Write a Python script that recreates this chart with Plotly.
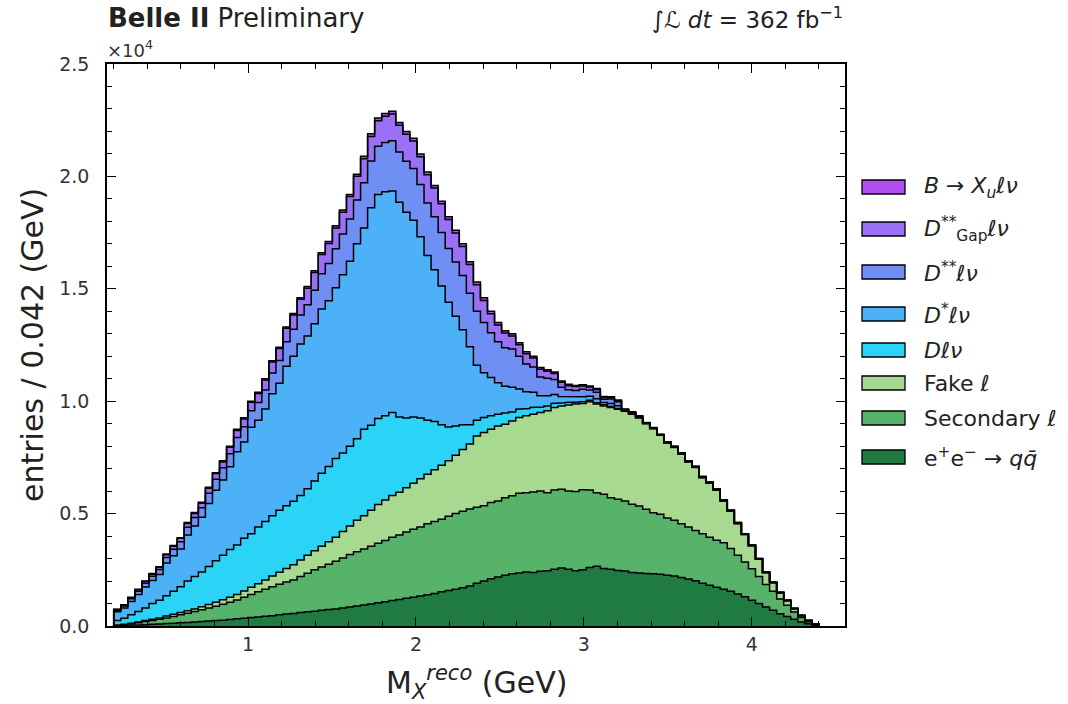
import numpy as np
import plotly.graph_objects as go

# Binning of the reconstructed hadronic mass (GeV)
BIN_LO, BIN_HI, N_BINS = 0.2, 4.4, 100

# Entries per bin for each process (stacked bottom -> top)
qq = [20, 30, 40, 50, 60, 80, 90, 110, 120, 140,
      160, 180, 200, 220, 240, 260, 290, 320, 350, 380,
      400, 430, 460, 500, 530, 560, 600, 630, 660, 700,
      730, 760, 800, 840, 890, 930, 980, 1030, 1080, 1130,
      1180, 1230, 1280, 1330, 1390, 1450, 1520, 1580, 1640, 1700,
      1780, 1900, 2000, 2100, 2180, 2260, 2320, 2360, 2400, 2380,
      2430, 2460, 2520, 2580, 2520, 2460, 2500, 2600, 2660, 2560,
      2520, 2470, 2450, 2380, 2360, 2340, 2320, 2300, 2260, 2220,
      2160, 2090, 2010, 1900, 1810, 1720, 1640, 1550, 1420, 1300,
      1150, 1000, 850, 700, 550, 420, 300, 180, 100, 30]

secondary = [20, 40, 60, 100, 140, 170, 210, 250, 300, 360,
             410, 460, 520, 580, 640, 710, 770, 840, 930, 1020,
             1120, 1210, 1290, 1360, 1430, 1490, 1600, 1720, 1840, 1920,
             2020, 2120, 2220, 2340, 2410, 2490, 2570, 2650, 2720, 2820,
             2870, 2950, 3020, 3070, 3160, 3200, 3230, 3300, 3360, 3400,
             3420, 3380, 3350, 3390, 3380, 3450, 3470, 3550, 3530, 3580,
             3580, 3470, 3530, 3500, 3490, 3520, 3560, 3450, 3270, 3300,
             3190, 3170, 3110, 3040, 2980, 2850, 2720, 2670, 2540, 2480,
             2390, 2310, 2240, 2200, 2140, 2100, 2060, 1900, 1730, 1550,
             1400, 1200, 1000, 850, 650, 500, 320, 200, 90, 30]

fake = [10, 10, 20, 30, 40, 50, 60, 80, 100, 100,
        110, 120, 140, 160, 180, 200, 220, 240, 280, 320,
        360, 410, 470, 530, 600, 670, 740, 800, 850, 930,
        1000, 1070, 1180, 1270, 1400, 1480, 1600, 1720, 1800, 1850,
        1900, 1970, 2050, 2150, 2200, 2300, 2400, 2470, 2600, 2750,
        2900, 3170, 3260, 3260, 3340, 3270, 3330, 3360, 3420, 3460,
        3490, 3640, 3670, 3710, 3820, 3890, 3840, 3920, 3940, 3930,
        4010, 4000, 3990, 4000, 3910, 3810, 3740, 3510, 3340, 3240,
        3100, 2900, 2800, 2500, 2400, 2220, 1850, 1650, 1400, 1220,
        1020, 770, 520, 370, 270, 200, 160, 90, 50, 20]

d_lnu = [200, 270, 380, 470, 560, 700, 790, 910, 1030, 1150,
         1320, 1440, 1540, 1690, 1840, 1980, 2120, 2200, 2340, 2380,
         2520, 2600, 2680, 2760, 2790, 2830, 2860, 2950, 3100, 3250,
         3350, 3500, 3500, 3550, 3630, 3850, 3780, 3830, 3750, 3700,
         3350, 3100, 2950, 2700, 2400, 2150, 1800, 1500, 1300, 1100,
         850, 700, 660, 600, 520, 490, 400, 370, 320, 300,
         240, 220, 180, 140, 110, 90, 80, 70, 60, 50,
         40, 40, 20, 20, 20, 10, 10, 10, 10, 10,
         10, 10, 10, 10, 10, 10, 10, 10, 10, 5,
         5, 5, 5, 5, 5, 5, 0, 0, 0, 0]

dstar_lnu = [380, 450, 590, 750, 930, 1020, 1140, 1450, 1580, 1680,
             2050, 2250, 2440, 2800, 3140, 3350, 3680, 4150, 4280, 4740,
             4750, 5000, 5430, 5650, 6200, 6450, 6750, 6800, 7000, 7300,
             7370, 7600, 7930, 8220, 8670, 8950, 9670, 9970, 9970, 9850,
             9550, 9150, 8750, 8070, 7330, 6750, 6170, 5550, 4880, 4230,
             3470, 2450, 2000, 1700, 1400, 1200, 1100, 900, 750, 680,
             500, 450, 400, 280, 240, 220, 220, 180, 180, 100,
             140, 120, 20, 20, 20, 10, 10, 10, 15, 15,
             15, 15, 15, 15, 15, 15, 15, 15, 15, 10,
             10, 10, 10, 10, 10, 10, 0, 0, 0, 0]

dss_lnu = [76, 94, 120, 145, 170, 195, 220, 252, 283, 315,
           346, 378, 416, 454, 491, 535, 580, 630, 680, 730,
           790, 850, 930, 1010, 1100, 1200, 1290, 1390, 1480, 1570,
           1660, 1730, 1810, 1880, 1950, 2020, 2080, 2140, 2190, 2240,
           2240, 2270, 2300, 2320, 2340, 2360, 2380, 2390, 2410, 2410,
           2380, 2400, 2230, 2000, 1830, 1710, 1700, 1460, 1240, 1120,
           840, 780, 660, 410, 330, 300, 330, 280, 290, 150,
           200, 170, 20, 30, 30, 10, 10, 10, 15, 15,
           15, 15, 15, 15, 15, 15, 15, 15, 15, 10,
           10, 10, 10, 10, 10, 10, 0, 0, 0, 0]

dss_gap = [24, 36, 50, 65, 80, 85, 100, 118, 137, 155,
           164, 182, 204, 226, 249, 265, 290, 320, 350, 380,
           400, 440, 480, 530, 590, 630, 690, 740, 800, 860,
           880, 930, 970, 1010, 1060, 1060, 1100, 1140, 1170, 1190,
           1180, 1200, 1220, 1230, 1250, 1270, 1280, 1290, 1290, 1290,
           1280, 1180, 980, 840, 740, 650, 580, 510, 450, 400,
           340, 310, 270, 220, 180, 170, 150, 130, 120, 80,
           70, 50, 20, 20, 20, 10, 10, 10, 10, 10,
           10, 10, 10, 10, 10, 10, 10, 10, 10, 5,
           5, 5, 5, 5, 5, 5, 0, 0, 0, 0]

xu_lnu = [20, 20, 20, 20, 20, 30, 30, 30, 30, 30,
          40, 40, 40, 40, 40, 50, 50, 50, 50, 50,
          60, 60, 60, 60, 60, 70, 70, 70, 70, 70,
          90, 90, 90, 90, 90, 120, 120, 120, 120, 120,
          130, 130, 130, 130, 130, 120, 120, 120, 120, 120,
          120, 120, 120, 110, 110, 100, 100, 90, 90, 80,
          80, 70, 70, 60, 60, 50, 50, 50, 40, 40,
          30, 30, 20, 20, 10, 10, 10, 10, 5, 5,
          5, 5, 5, 5, 5, 5, 5, 5, 5, 0,
          0, 0, 0, 0, 0, 0, 0, 0, 0, 0]

# Legend labels and fill colours, bottom of the stack first
labels = ["e<sup>+</sup>e<sup>\u2212</sup> \u2192 <i>q</i><i>q\u0304</i>",
          "Secondary <i>\u2113</i>",
          "Fake <i>\u2113</i>",
          "<i>D\u2113\u03bd</i>",
          "<i>D</i><sup>*</sup><i>\u2113\u03bd</i>",
          "<i>D</i><sup>**</sup><i>\u2113\u03bd</i>",
          "<i>D</i><sup>**</sup><sub>Gap</sub><i>\u2113\u03bd</i>",
          "<i>B</i> \u2192 <i>X<sub>u</sub>\u2113\u03bd</i>"]
colors = ["#1f7b41", "#57b36a", "#a7d990", "#2bd3f6",
          "#4db1f8", "#6f8ff5", "#9a70f7", "#b24df2"]
series = [qq, secondary, fake, d_lnu, dstar_lnu, dss_lnu, dss_gap, xu_lnu]

edges = np.linspace(BIN_LO, BIN_HI, N_BINS + 1)
# step outline: each bin contributes its left and right edge at the bin height
step_x = np.concatenate([[edges[0]], np.column_stack([edges[:-1], edges[1:]]).ravel(), [edges[-1]]])

fig = go.Figure()
running = np.zeros(N_BINS)
for k, (vals, col) in enumerate(zip(series, colors)):
    running = running + np.asarray(vals, dtype=float)
    step_y = np.concatenate([[0.0], np.repeat(running, 2), [0.0]])
    fig.add_trace(go.Scatter(
        x=step_x, y=step_y, mode="lines",
        line=dict(color="black", width=1.5),
        fill="tozeroy" if k == 0 else "tonexty",
        fillcolor=col, showlegend=False, hoverinfo="skip"))

# plot-area geometry in pixels
L, R, T, B = 107, 845, 64, 626
W, H = 1068, 704
pw, ph = R - L, B - T

def px(xp):
    return (xp - L) / pw

def py(yp):
    return (B - yp) / ph

axis_common = dict(
    showline=True, linecolor="black", linewidth=1.5, mirror="ticks",
    ticks="inside", ticklen=9, tickwidth=1.2, tickcolor="black",
    showgrid=False, zeroline=False,
    tickfont=dict(family="DejaVu Sans", size=19, color="#333333"),
)

fig.update_layout(
    width=W, height=H,
    margin=dict(l=L, r=W - R, t=T, b=H - B),
    paper_bgcolor="white", plot_bgcolor="white",
    font=dict(family="DejaVu Sans", color="#222222"),
    xaxis=dict(range=[0.16, 4.555], tickvals=[1, 2, 3, 4],
               minor=dict(ticks="inside", dtick=0.2, tick0=0, ticklen=5,
                          tickcolor="black", tickwidth=1),
               ticklabelstandoff=0, **axis_common),
    yaxis=dict(range=[0, 25000], tickvals=[0, 5000, 10000, 15000, 20000, 25000],
               ticktext=["0.0", "0.5", "1.0", "1.5", "2.0", "2.5"],
               minor=dict(ticks="inside", dtick=1000, tick0=0, ticklen=5,
                          tickcolor="black", tickwidth=1),
               ticklabelstandoff=12, **axis_common),
)

ann = []
ann.append(dict(x=px(106), y=py(18), xref="paper", yref="paper", xanchor="left", yanchor="middle",
                text="<b>Belle II</b> Preliminary", showarrow=False,
                font=dict(size=26, color="#222222")))
ann.append(dict(x=px(845), y=py(18), xref="paper", yref="paper", xanchor="right", yanchor="middle",
                text="\u222b<i>\u2112 dt</i> = 362 fb<sup>\u22121</sup>", showarrow=False,
                font=dict(size=23, color="#222222")))
ann.append(dict(x=px(105), y=py(49), xref="paper", yref="paper", xanchor="left", yanchor="middle",
                text="\u00d710<sup>4</sup>", showarrow=False,
                font=dict(size=18, color="#333333")))
ann.append(dict(x=px(32), y=py(345), xref="paper", yref="paper", xanchor="center", yanchor="middle",
                text="entries / 0.042 (GeV)", textangle=-90, showarrow=False,
                font=dict(size=30, color="#222222")))
ann.append(dict(x=px(476), y=py(682), xref="paper", yref="paper", xanchor="center", yanchor="middle",
                text="M<sub><i>X</i></sub><sup><i>reco</i></sup> (GeV)", showarrow=False,
                font=dict(size=30, color="#222222")))

# legend: coloured boxes with labels, top entry first
legend_y = [187, 229, 272, 314, 350, 383, 418, 457]
shapes = []
for yc, lab, col in zip(legend_y, labels[::-1], colors[::-1]):
    shapes.append(dict(type="rect", xref="paper", yref="paper",
                       x0=px(862), x1=px(905), y0=py(yc + 7), y1=py(yc - 7),
                       fillcolor=col, line=dict(color="black", width=1.3)))
    ann.append(dict(x=px(922), y=py(yc), xref="paper", yref="paper", xanchor="left", yanchor="middle",
                    text=lab, showarrow=False, font=dict(size=22, color="#222222")))

fig.update_layout(annotations=ann, shapes=shapes)
fig.write_html("out.html")
